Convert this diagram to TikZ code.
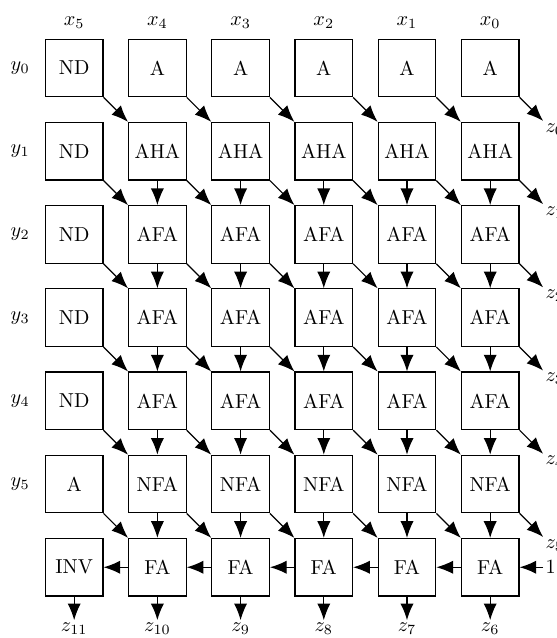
\documentclass[tikz,border=0pt]{standalone}
\usetikzlibrary{arrows.meta,positioning,calc}
\tikzset{
 cell/.style={draw, semithick, minimum size=1cm, inner sep=1pt},
 lbl/.style={inner sep=1pt},
 arrow/.style={-{Latex[length=2.9mm,width=2.3mm]}, semithick}
}

\begin{document}
\begin{tikzpicture}[node distance=0.426cm]
\useasboundingbox (0,0) rectangle (9.687,-11.096);
% row y0
\node[cell] (n05) at (1.29,-1.183) {ND};
\node[cell,right=of n05] (n04) {A};
\node[cell,right=of n04] (n03) {A};
\node[cell,right=of n03] (n02) {A};
\node[cell,right=of n02] (n01) {A};
\node[cell,right=of n01] (n00) {A};
% row y1
\node[cell,below=of n05] (n15) {ND};
\node[cell,right=of n15] (n14) {AHA};
\node[cell,right=of n14] (n13) {AHA};
\node[cell,right=of n13] (n12) {AHA};
\node[cell,right=of n12] (n11) {AHA};
\node[cell,right=of n11] (n10) {AHA};
% row y2
\node[cell,below=of n15] (n25) {ND};
\node[cell,right=of n25] (n24) {AFA};
\node[cell,right=of n24] (n23) {AFA};
\node[cell,right=of n23] (n22) {AFA};
\node[cell,right=of n22] (n21) {AFA};
\node[cell,right=of n21] (n20) {AFA};
% row y3
\node[cell,below=of n25] (n35) {ND};
\node[cell,right=of n35] (n34) {AFA};
\node[cell,right=of n34] (n33) {AFA};
\node[cell,right=of n33] (n32) {AFA};
\node[cell,right=of n32] (n31) {AFA};
\node[cell,right=of n31] (n30) {AFA};
% row y4
\node[cell,below=of n35] (n45) {ND};
\node[cell,right=of n45] (n44) {AFA};
\node[cell,right=of n44] (n43) {AFA};
\node[cell,right=of n43] (n42) {AFA};
\node[cell,right=of n42] (n41) {AFA};
\node[cell,right=of n41] (n40) {AFA};
% row y5
\node[cell,below=of n45] (n55) {A};
\node[cell,right=of n55] (n54) {NFA};
\node[cell,right=of n54] (n53) {NFA};
\node[cell,right=of n53] (n52) {NFA};
\node[cell,right=of n52] (n51) {NFA};
\node[cell,right=of n51] (n50) {NFA};
% adder row
\node[cell,below=of n55] (n65) {INV};
\node[cell,right=of n65] (n64) {FA};
\node[cell,right=of n64] (n63) {FA};
\node[cell,right=of n63] (n62) {FA};
\node[cell,right=of n62] (n61) {FA};
\node[cell,right=of n61] (n60) {FA};
\node[lbl,right=0.41cm of n60] (one) {1};

% column and row labels
\node[above=0.05cm of n05] (x5) {$x_5$};
\node[above=0.05cm of n04] (x4) {$x_4$};
\node[above=0.05cm of n03] (x3) {$x_3$};
\node[above=0.05cm of n02] (x2) {$x_2$};
\node[above=0.05cm of n01] (x1) {$x_1$};
\node[above=0.05cm of n00] (x0) {$x_0$};
\node[left=0.14cm of n05] (y0) {$y_0$};
\node[left=0.14cm of n15] (y1) {$y_1$};
\node[left=0.14cm of n25] (y2) {$y_2$};
\node[left=0.14cm of n35] (y3) {$y_3$};
\node[left=0.14cm of n45] (y4) {$y_4$};
\node[left=0.14cm of n55] (y5) {$y_5$};

% outputs
\coordinate (e0) at ($(n00.south east)+(0.41,-0.41)$);
\coordinate (e1) at ($(n10.south east)+(0.41,-0.41)$);
\coordinate (e2) at ($(n20.south east)+(0.41,-0.41)$);
\coordinate (e3) at ($(n30.south east)+(0.41,-0.41)$);
\coordinate (e4) at ($(n40.south east)+(0.41,-0.41)$);
\coordinate (e5) at ($(n50.south east)+(0.41,-0.41)$);
\node[lbl,anchor=north west] (z0) at (e0) {$z_0$};
\node[lbl,anchor=north west] (z1) at (e1) {$z_1$};
\node[lbl,anchor=north west] (z2) at (e2) {$z_2$};
\node[lbl,anchor=north west] (z3) at (e3) {$z_3$};
\node[lbl,anchor=north west] (z4) at (e4) {$z_4$};
\node[lbl,anchor=north west] (z5) at (e5) {$z_5$};
\node[lbl,below=0.41cm of n60] (z6) {$z_6$};
\node[lbl,below=0.41cm of n61] (z7) {$z_7$};
\node[lbl,below=0.41cm of n62] (z8) {$z_8$};
\node[lbl,below=0.41cm of n63] (z9) {$z_9$};
\node[lbl,below=0.41cm of n64] (z10) {$z_{10}$};
\node[lbl,below=0.41cm of n65] (z11) {$z_{11}$};

% connectors
\foreach \r/\s in {0/1,1/2,2/3,3/4,4/5,5/6} {
  \foreach \c/\d in {5/4,4/3,3/2,2/1,1/0}
    \draw[arrow] (n\r\c.south east) -- (n\s\d.north west);
}
\foreach \r in {0,...,5}
  \draw[arrow] (n\r0.south east) -- (e\r);
\foreach \r/\s in {1/2,2/3,3/4,4/5,5/6} {
  \foreach \c in {0,...,4}
    \draw[arrow] (n\r\c) -- (n\s\c);
}
\draw[arrow] (one) -- (n60);
\foreach \c/\d in {0/1,1/2,2/3,3/4,4/5}
  \draw[arrow] (n6\c) -- (n6\d);
\foreach \c/\k in {0/6,1/7,2/8,3/9,4/10,5/11}
  \draw[arrow] (n6\c) -- (z\k);
\end{tikzpicture}
\end{document}
